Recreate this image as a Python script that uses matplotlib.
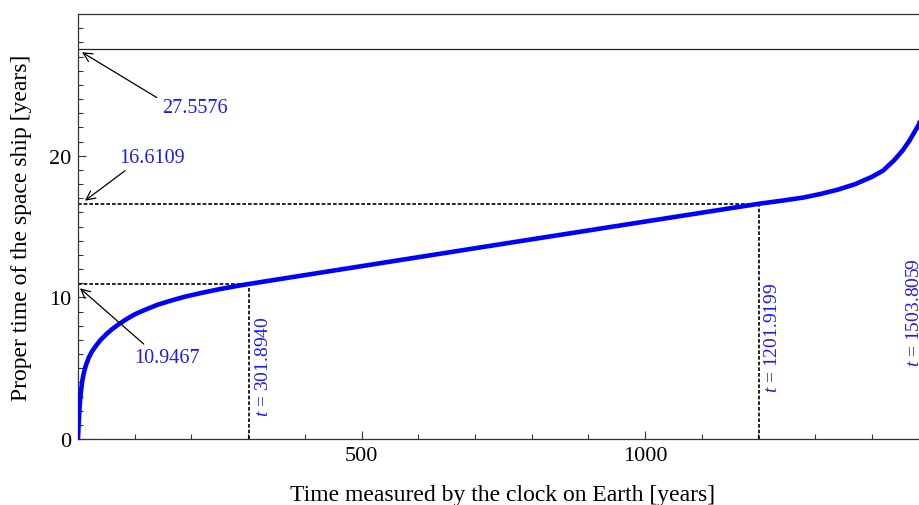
import numpy as np
import matplotlib
matplotlib.use("Agg")
import matplotlib.pyplot as plt
from matplotlib.ticker import FixedLocator

plt.rcParams['font.family'] = ['Liberation Serif', 'DejaVu Serif']
plt.rcParams['mathtext.fontset'] = 'custom'
plt.rcParams['mathtext.rm'] = 'Liberation Serif'
plt.rcParams['mathtext.it'] = 'Liberation Serif:italic'

# Earth time t [years] vs proper time tau [years]
t_accel = [0, 1, 2, 3, 5, 7.5, 10, 13.5, 19, 25, 32, 40, 50, 60, 72, 85,
           100, 120, 140, 165, 190, 220, 250, 280, 301.894]
tau_accel = [0, 0.9, 1.7, 2.4, 3.3, 4.1, 4.6, 5.15, 5.75, 6.2, 6.6, 7.0, 7.4,
             7.75, 8.1, 8.45, 8.8, 9.15, 9.47, 9.78, 10.06, 10.33, 10.58,
             10.8, 10.9467]
t_cruise = [301.894, 750, 1201.92]
tau_cruise = [10.9467, 13.78, 16.6109]
t_decel = [1201.92, 1250, 1280, 1310, 1340, 1370, 1400, 1420, 1440, 1455,
           1467, 1475, 1483, 1490, 1495, 1500, 1503.806]
tau_decel = [16.6109, 16.87, 17.05, 17.3, 17.6, 17.98, 18.5, 18.95, 19.7,
             20.4, 21.1, 21.65, 22.2, 23.1, 24.0, 25.3, 27.5576]

t_marks = [301.894, 1201.9199, 1503.8059]
t_mark_labels = ["301.8940", "1201.9199", "1503.8059"]
tau_marks = [10.9467, 16.6109, 27.5576]
tau_mark_labels = ["10.9467", "16.6109", "27.5576"]

W, H = 919, 506
fig = plt.figure(figsize=(W / 100, H / 100), dpi=100)
ax = fig.add_axes([78 / W, 66 / H, (W - 78) / W, 425 / H])

t_all = t_accel + t_cruise[1:] + t_decel[1:]
tau_all = tau_accel + tau_cruise[1:] + tau_decel[1:]
ax.plot(t_all, tau_all, color=(0, 0, 1), lw=3.3, solid_capstyle='butt', zorder=3)

# total proper time line
ax.axhline(tau_marks[2], color='#222222', lw=0.9, zorder=2)

# dashed guides
dash = (0, (2.2, 1.2))
for tm, tv in zip(t_marks[:2], tau_marks[:2]):
    ax.plot([0, tm], [tv, tv], color='black', lw=1.2, ls=dash, zorder=2)
    ax.plot([tm, tm], [0, tv], color='black', lw=1.2, ls=dash, zorder=2)

blue = (0.1, 0.1, 1.0)
arr = dict(arrowstyle='->', color='black', lw=0.9, shrinkA=0, shrinkB=0,
           mutation_scale=16)

# proper time callouts
ax.annotate('', xy=(3.5, 10.64), xytext=(116, 6.7), arrowprops=arr)
ax.text(100, 5.72, tau_mark_labels[0], color=blue, fontsize=14.5, ha='left', va='center')
ax.annotate('', xy=(12.3, 16.82), xytext=(83, 18.94), arrowprops=arr)
ax.text(72, 19.88, tau_mark_labels[1], color=blue, fontsize=14.5, ha='left', va='center')
ax.annotate('', xy=(7, 27.3), xytext=(139, 24.1), arrowprops=arr)
ax.text(148, 23.4, tau_mark_labels[2], color=blue, fontsize=14.5, ha='left', va='center')

# earth time labels (the last one touches the right edge, as in the source)
label_pos = [(327, 1.64), (1225, 3.32), (1475, 5.17)]
for (lx, ly), lab in zip(label_pos, t_mark_labels):
    ax.text(lx, ly, r"$t$ = " + lab, color=blue, fontsize=14, rotation=90,
            ha='center', va='bottom')

ax.set_xlim(0, (W - 78) / 0.567)
ax.set_ylim(0, 30)

ax.xaxis.set_major_locator(FixedLocator([500, 1000]))
ax.xaxis.set_minor_locator(FixedLocator([100, 200, 300, 400, 600, 700, 800, 900,
                                         1100, 1200, 1300, 1400]))
ax.yaxis.set_major_locator(FixedLocator([0, 10, 20]))
ax.yaxis.set_minor_locator(FixedLocator([v for v in range(1, 30) if v % 10]))
ax.tick_params(which='both', direction='in', top=False, right=False,
               labelsize=16, color='#333333', width=0.8, pad=5)
ax.tick_params(which='major', length=6)
ax.tick_params(which='minor', length=3.5)

ax.spines['right'].set_visible(False)
for s in ['left', 'bottom', 'top']:
    ax.spines[s].set_linewidth(0.9)
    ax.spines[s].set_color('#333333')

fig.text(503 / W, 1 - 496 / H, "Time measured by the clock on Earth [years]",
         fontsize=17, ha='center', va='center')
fig.text(22 / W, 1 - 228 / H, "Proper time of the space ship [years]",
         fontsize=17, ha='center', va='center', rotation=90)

fig.savefig("out.png", dpi=100)
